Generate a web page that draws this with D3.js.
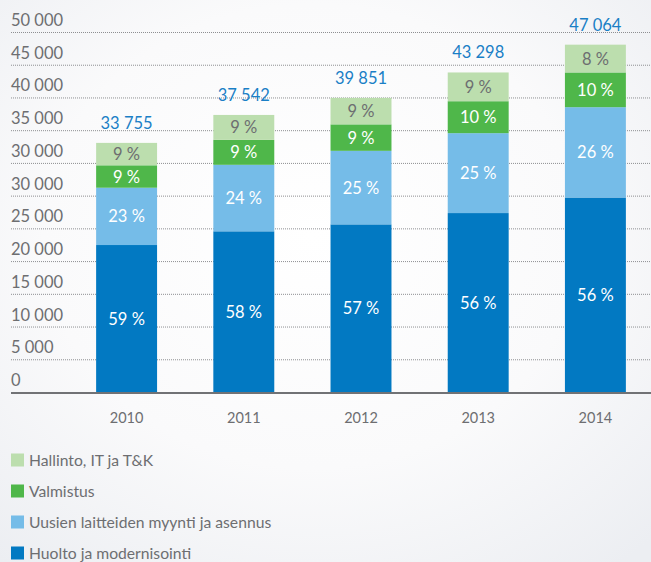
<!DOCTYPE html>
<html>
<head>
<meta charset="utf-8">
<script src="https://cdn.jsdelivr.net/npm/d3@7/dist/d3.min.js"></script>
<style>
  html, body { margin: 0; padding: 0; background: #fff; }
  svg { display: block; }
  text { font-family: Lato, "Open Sans", sans-serif; }
</style>
</head>
<body>
<svg id="chart" width="651" height="562"></svg>
<script>
// Revenue by business area, 2010–2014
const years = ["2010", "2011", "2012", "2013", "2014"];
const totals = [33755, 37542, 39851, 43298, 47064];
const totalLabels = ["33 755", "37 542", "39 851", "43 298", "47 064"];

// Share of each business area (percent), bottom to top
const huolto   = [59, 58, 57, 56, 56];
const uusien   = [23, 24, 25, 25, 26];
const valmistus = [9, 9, 9, 10, 10];
const hallinto = [9, 9, 9, 9, 8];

const seriesNames = [
  "Huolto ja modernisointi",
  "Uusien laitteiden myynti ja asennus",
  "Valmistus",
  "Hallinto, IT ja T&K"
];
const seriesColors = ["#0279c2", "#75bce8", "#4fb74a", "#bcdeae"];
const labelColors = ["#ffffff", "#ffffff", "#ffffff", "#6d6e71"];

// Value axis labels, bottom to top
const yTickLabels = ["0", "5 000", "10 000", "15 000", "20 000", "25 000",
                     "30 000", "30 000", "35 000", "40 000", "45 000", "50 000"];

const svg = d3.select("#chart");
const W = 651, H = 562;

// soft background
const defs = svg.append("defs");
const grad = defs.append("radialGradient").attr("id", "bg")
  .attr("cx", "48%").attr("cy", "42%").attr("r", "75%");
grad.append("stop").attr("offset", "0%").attr("stop-color", "#ffffff");
grad.append("stop").attr("offset", "55%").attr("stop-color", "#fafafb");
grad.append("stop").attr("offset", "100%").attr("stop-color", "#eceef2");
svg.append("rect").attr("width", W).attr("height", H).attr("fill", "url(#bg)");

const baseY = 392;
const axisLeft = 11;

// gridline rows, one per tick label
const yGrid = d3.scalePoint().domain(d3.range(yTickLabels.length))
  .range([baseY, 32]);

// bar height scale
const y = d3.scaleLinear().domain([0, 50000]).range([baseY, baseY - 369]);

const x = d3.scaleBand().domain(years).range([68, 654])
  .paddingInner(0.48).paddingOuter(0.24);

// gridlines
svg.append("g").selectAll("line")
  .data(d3.range(1, yTickLabels.length))
  .join("line")
  .attr("x1", axisLeft).attr("x2", W)
  .attr("y1", d => yGrid(d) + 0.5).attr("y2", d => yGrid(d) + 0.5)
  .attr("stroke", "#8e8f92").attr("stroke-width", 1)
  .attr("stroke-dasharray", "1,1");

// tick labels
svg.append("g").selectAll("text")
  .data(yTickLabels)
  .join("text")
  .attr("x", axisLeft)
  .attr("y", (d, i) => yGrid(i) - 6)
  .attr("font-size", 16.5)
  .attr("fill", "#6d6e71")
  .text(d => d);

// stacked data
const shares = [huolto, uusien, valmistus, hallinto];
const rows = years.map((yr, i) => {
  let acc = 0;
  return shares.map((s, k) => {
    const v = totals[i] * s[i] / 100;
    const seg = { year: yr, k, pct: s[i], y0: acc, y1: acc + v };
    acc += v;
    return seg;
  });
});

const segs = rows.flat();
const bars = svg.append("g");
bars.selectAll("rect")
  .data(segs)
  .join("rect")
  .attr("x", d => x(d.year))
  .attr("width", x.bandwidth())
  .attr("y", d => y(d.y1))
  .attr("height", d => y(d.y0) - y(d.y1))
  .attr("fill", d => seriesColors[d.k]);

bars.selectAll("text")
  .data(segs)
  .join("text")
  .attr("x", d => x(d.year) + x.bandwidth() / 2)
  .attr("y", d => (y(d.y0) + y(d.y1)) / 2 + 6)
  .attr("text-anchor", "middle")
  .attr("font-size", 16.5)
  .attr("fill", d => labelColors[d.k])
  .text(d => d.pct + " %");

// totals above bars
svg.append("g").selectAll("text")
  .data(years)
  .join("text")
  .attr("x", d => x(d) + x.bandwidth() / 2)
  .attr("y", (d, i) => y(totals[i]) - 14)
  .attr("text-anchor", "middle")
  .attr("font-size", 16.5)
  .attr("fill", "#1a7fc6")
  .text((d, i) => totalLabels[i]);

// baseline
svg.append("line")
  .attr("x1", axisLeft).attr("x2", W)
  .attr("y1", baseY + 1).attr("y2", baseY + 1)
  .attr("stroke", "#717275").attr("stroke-width", 2);

// year labels
svg.append("g").selectAll("text")
  .data(years)
  .join("text")
  .attr("x", d => x(d) + x.bandwidth() / 2)
  .attr("y", 423)
  .attr("text-anchor", "middle")
  .attr("font-size", 14.5)
  .attr("fill", "#6d6e71")
  .text(d => d);

// legend, top item = top stack segment
const legendOrder = [3, 2, 1, 0];
const legend = svg.append("g").selectAll("g")
  .data(legendOrder)
  .join("g")
  .attr("transform", (d, i) => `translate(${axisLeft}, ${460 + i * 31})`);
legend.append("rect")
  .attr("x", 0).attr("y", -6.5)
  .attr("width", 13).attr("height", 13)
  .attr("fill", d => seriesColors[d]);
legend.append("text")
  .attr("x", 18).attr("y", 6)
  .attr("font-size", 15.7)
  .attr("fill", "#6d6e71")
  .text(d => seriesNames[d]);
</script>
</body>
</html>
